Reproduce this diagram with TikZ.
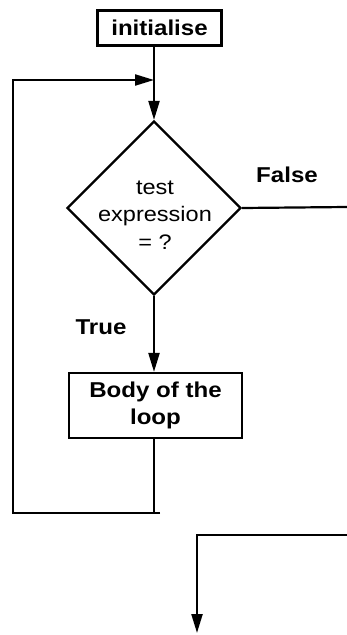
\documentclass[tikz,border=0pt]{standalone}
\usepackage{fontspec}
\setmainfont{Liberation Sans}
\newfontfamily\widefont[FakeStretch=1.12]{Liberation Sans}
\usetikzlibrary{shapes.geometric,arrows.meta}
\begin{document}
\begin{tikzpicture}[x=1pt,y=-1pt,
  line width=2.2pt,
  arr/.style={-{Triangle[length=19pt,width=11pt]}},
  boxnode/.style={draw,rectangle,inner sep=0pt,font=\widefont\bfseries\fontsize{21.5}{27}\selectfont,align=center},
  lbl/.style={inner sep=0pt,font=\widefont\bfseries\fontsize{21.5}{25}\selectfont},
  dtxt/.style={inner sep=0pt,align=center,font=\widefont\fontsize{21}{27.5}\selectfont}]
\useasboundingbox (0,0) rectangle (347,635);
\node[boxnode,minimum width=124pt,minimum height=35pt] (init) at (159.5,28) {initialise};
\node[draw,diamond,aspect=1,minimum width=174pt,minimum height=174pt,inner sep=0pt] (dia) at (154,208) {};
\node[dtxt] (dtext) at (155,215) {test\\expression\\= ?};
\node[lbl] (false) at (287,175) {False};
\node[lbl] (true) at (101,327) {True};
\node[boxnode,minimum width=173pt,minimum height=65pt] (body) at (155.5,405.5) {Body of the\\loop};
\coordinate (merge) at (154,80);
\coordinate (lt) at (13,80);
\coordinate (lb) at (13,513);
\coordinate (bb) at (154,513);
\coordinate (bbr) at (160,513);
\coordinate (fr) at (347,207);
\coordinate (rr) at (347,535);
\coordinate (rc) at (197,535);
\coordinate (out) at (197,633);
\draw (init.south -| merge) -- (merge);
\draw[arr] (merge) -- (dia.north);
\draw[arr] (bbr) -- (lb) -- (lt) -- (merge);
\draw (body.south -| bb) -- (bb);
\draw[arr] (dia.south) -- (body.north -| dia.south);
\draw (dia.east) -- (fr);
\draw[arr] (rr) -- (rc) -- (out);
\end{tikzpicture}
\end{document}
